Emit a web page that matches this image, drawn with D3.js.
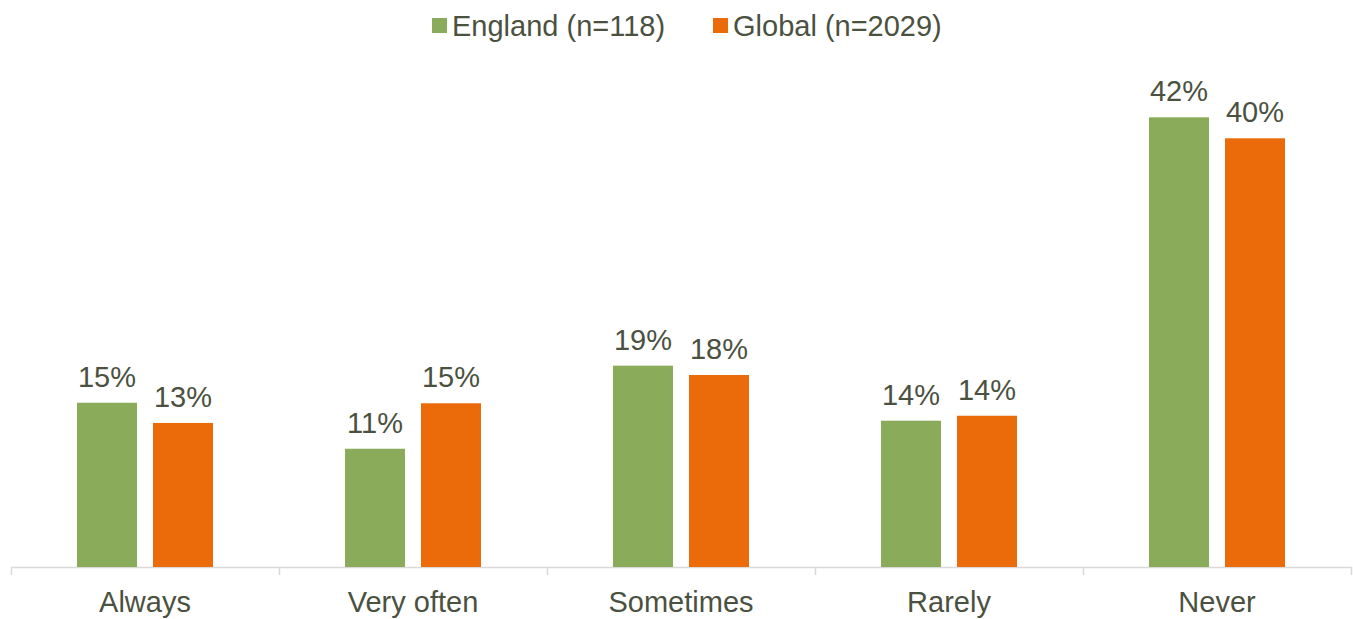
<!DOCTYPE html>
<html><head><meta charset="utf-8">
<script src="https://cdn.jsdelivr.net/npm/d3@7/dist/d3.min.js"></script>
<style>body{margin:0;background:#fff}svg{display:block}text{font-family:"Liberation Sans",Arial,sans-serif}</style>
</head><body><svg id="c" width="1353" height="619"></svg>
<script>
const categories = ["Always","Very often","Sometimes","Rarely","Never"];
const seriesNames = ["England (n=118)","Global (n=2029)"];
const england = [15.28, 11.0, 18.73, 13.61, 41.83];
const globalV = [13.4, 15.23, 17.86, 14.07, 39.88];
const labelsEngland = ["15%","11%","19%","14%","42%"];
const labelsGlobal = ["13%","15%","18%","14%","40%"];
const colors = ["#8aac5a","#eb6a0a"];

const svg = d3.select("#c");
const textColor = "#4b5140";
const fs = 29;
const left = 11, right = 1351, base = 567;
const x = d3.scaleBand().domain(categories).range([left,right]).paddingInner(0).paddingOuter(0);
const y = d3.scaleLinear().domain([0,45]).range([base, base-45*10.75]);
const inner = d3.scaleBand().domain([0,1]).range([x.bandwidth()/2-68, x.bandwidth()/2+68]).paddingInner(16/76).paddingOuter(0);

// axis
const ax = svg.append("g").attr("transform",`translate(0,${base})`)
  .call(d3.axisBottom(x).tickSize(0).tickPadding(0));
ax.select(".domain").remove();
ax.selectAll("text").remove();
svg.append("line").attr("x1",left).attr("x2",right).attr("y1",base+0.5).attr("y2",base+0.5).attr("stroke","#d9d9d9").attr("stroke-width",1.5);
const tickPos = categories.map(c=>x(c)).concat([right]);
svg.selectAll("line.tk").data(tickPos).join("line").attr("class","tk")
  .attr("x1",d=>Math.round(d)+0.5).attr("x2",d=>Math.round(d)+0.5).attr("y1",base).attr("y2",base+8)
  .attr("stroke","#d9d9d9").attr("stroke-width",1.5);
svg.selectAll("text.cat").data(categories).join("text").attr("class","cat")
  .attr("x",d=>x(d)+x.bandwidth()/2).attr("y",612).attr("text-anchor","middle")
  .attr("font-size",fs).attr("fill",textColor).text(d=>d);

const series = [england, globalV];
const labels = [labelsEngland, labelsGlobal];
series.forEach((vals,si)=>{
  const g = svg.append("g");
  g.selectAll("rect").data(vals).join("rect")
    .attr("x",(d,i)=>x(categories[i])+inner(si))
    .attr("y",d=>y(d)).attr("width",inner.bandwidth()).attr("height",d=>base-y(d))
    .attr("fill",colors[si]);
  g.selectAll("text").data(vals).join("text")
    .attr("x",(d,i)=>x(categories[i])+inner(si)+inner.bandwidth()/2)
    .attr("y",d=>y(d)-16).attr("text-anchor","middle")
    .attr("font-size",fs).attr("fill",textColor).text((d,i)=>labels[si][i]);
});

// legend
const legX = [432, 713];
seriesNames.forEach((n,i)=>{
  svg.append("rect").attr("x",legX[i]).attr("y",18).attr("width",15).attr("height",15).attr("fill",colors[i]);
  svg.append("text").attr("x",legX[i]+20).attr("y",36).attr("font-size",fs).attr("fill",textColor).text(n);
});
</script></body></html>
